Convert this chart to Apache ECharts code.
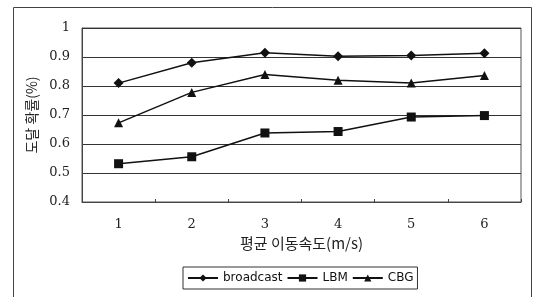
<!DOCTYPE html>
<html>
<head>
<meta charset="utf-8">
<script src="https://cdn.jsdelivr.net/npm/echarts@6/dist/echarts.min.js"></script>
<style>
  html, body { margin: 0; padding: 0; background: #fff; }
</style>
</head>
<body>
<div id="main" style="width: 534px;height:297px;"></div>
<script>
// 이동속도 (m/s)
var speeds = ['1', '2', '3', '4', '5', '6']
// 도달 확률
var broadcast = [0.81, 0.88, 0.915, 0.903, 0.905, 0.913]
var lbm = [0.532, 0.556, 0.638, 0.643, 0.693, 0.698]
var cbg = [0.673, 0.778, 0.84, 0.82, 0.81, 0.836]

var chart = echarts.init(document.getElementById('main'))

function line (name, data, symbol) {
  return {
    name: name,
    type: 'line',
    data: data,
    symbol: symbol,
    symbolSize: symbol === 'diamond' ? 10 : 9,
    lineStyle: { color: '#111', width: 1.5 },
    itemStyle: { color: '#111' },
    animation: false
  }
}

var option = {
  backgroundColor: '#fff',
  graphic: [
    {
      type: 'rect',
      shape: { x: 13.5, y: 7.5, width: 518, height: 300 },
      style: { fill: 'none', stroke: '#444', lineWidth: 1 },
      silent: true
    }
  ],
  grid: {
    left: 82,
    top: 28,
    right: 13,
    bottom: 95,
    show: true,
    borderColor: '#555',
    borderWidth: 1
  },
  legend: {
    left: 183,
    top: 267,
    padding: [5, 4],
    itemWidth: 30,
    itemHeight: 9,
    itemGap: 4,
    borderColor: '#333',
    borderWidth: 1,
    textStyle: { fontFamily: 'DejaVu Sans', fontSize: 12, color: '#111' },
    data: ['broadcast', 'LBM', 'CBG']
  },
  xAxis: {
    type: 'category',
    data: speeds,
    boundaryGap: true,
    name: '평균 이동속도(m/s)',
    nameLocation: 'middle',
    nameGap: 31,
    nameTextStyle: { fontFamily: 'Noto Sans CJK KR', fontSize: 15, color: '#222' },
    axisLine: { lineStyle: { color: '#444', width: 1 } },
    axisTick: { show: true, inside: true, length: 3, lineStyle: { color: '#444' } },
    axisLabel: { margin: 16, fontFamily: 'DejaVu Serif', fontSize: 13, color: '#222' }
  },
  yAxis: {
    type: 'value',
    min: 0.4,
    max: 1,
    interval: 0.1,
    name: '도달 확률(%)',
    nameLocation: 'middle',
    nameRotate: 90,
    nameGap: 43,
    nameTextStyle: { fontFamily: 'Noto Sans CJK KR', fontSize: 14, color: '#222' },
    axisLine: { show: true, lineStyle: { color: '#444', width: 1 } },
    axisTick: { show: false },
    axisLabel: {
      margin: 12,
      fontFamily: 'DejaVu Serif',
      fontSize: 13,
      color: '#222',
      formatter: function (v) { return v === 1 ? '1' : v.toFixed(1) }
    },
    splitLine: { lineStyle: { color: '#333', width: 1 } }
  },
  series: [
    line('broadcast', broadcast, 'diamond'),
    line('LBM', lbm, 'rect'),
    line('CBG', cbg, 'triangle')
  ]
}

chart.setOption(option)
</script>
</body>
</html>
